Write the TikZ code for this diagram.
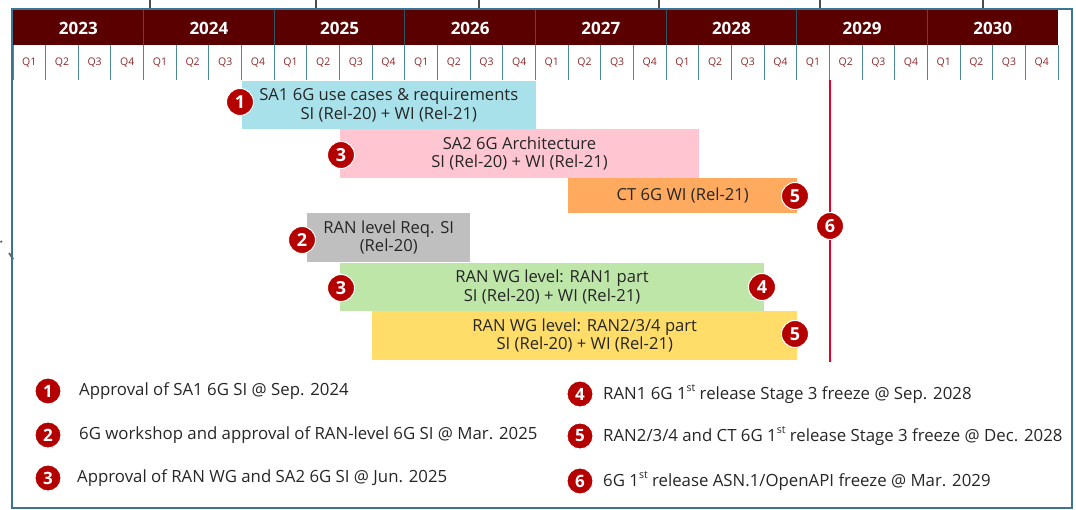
\documentclass[tikz,border=0pt]{standalone}
\usepackage{fontspec}
\setmainfont{Open Sans}
\definecolor{hdr}{HTML}{5A0000}
\definecolor{qtxt}{HTML}{8B2A2A}
\definecolor{qline}{HTML}{4A8A94}
\definecolor{ysep}{HTML}{2E5963}
\definecolor{frame}{HTML}{3A7594}
\definecolor{cSA}{HTML}{A9E1EA}
\definecolor{cPink}{HTML}{FFC6D2}
\definecolor{cOrange}{HTML}{FFAA5E}
\definecolor{cGray}{HTML}{BFBFBF}
\definecolor{cGreen}{HTML}{BEE6A9}
\definecolor{cYellow}{HTML}{FFDD68}
\definecolor{badgered}{HTML}{B50000}
\definecolor{redline}{HTML}{E4002B}
\definecolor{txt}{HTML}{262626}
\newcommand\qx[1]{(13+#1*32.656)}
\newcommand\stx{\raisebox{0.45em}{\fontsize{10.5}{10}\selectfont st}}
\tikzset{
  yearlbl/.style={text=white, font=\fontsize{17}{18}\selectfont\bfseries, inner sep=0},
  qlbl/.style={text=qtxt, font=\fontsize{10.5}{12}\selectfont, inner sep=0},
  barbox/.style={anchor=north west, inner sep=0, align=center, text=txt,
     font=\fontsize{16.6}{18.5}\selectfont},
  badge/.style={circle, fill=badgered, draw=white, line width=1pt, inner sep=0,
     minimum size=27pt, text=white, font=\fontsize{18}{18}\selectfont\bfseries},
  badgeS/.style={badge, minimum size=26pt, font=\fontsize{17}{17}\selectfont\bfseries},
  legtxt/.style={anchor=west, inner sep=0, text=txt, font=\fontsize{16.8}{18}\selectfont},
  redl/.style={draw=redline, line width=2.5pt},
}
\begin{document}
\begin{tikzpicture}[x=1pt,y=-1pt]
\useasboundingbox (0,0) rectangle (1076,510);
% top artifacts
\foreach \xx in {150,316,479,659,820,983}
  \draw[line width=1.6pt, black!70] (\xx,0) -- (\xx,9);
\fill[black!60] (1.2,241.7) circle (1.3);
\draw[black!60, line width=1.8pt] (9,253) -- (13.3,259.3);
% frame
\draw[frame, line width=1.6pt] (12,9) rectangle (1072,508);
% header
\fill[hdr] (13,10) rectangle (1058,45);
\foreach \i in {1,...,7}
  \draw[ysep, line width=0.8pt] ({13+\i*130.625},10) -- ({13+\i*130.625},45);
\foreach \yr [count=\i from 0] in {2023,...,2030}
  \node[yearlbl] (yr\i) at ({13+(\i+0.5)*130.625},28) {\yr};
\foreach \j in {0,...,32}
  \draw[qline, line width=1pt] ({13+\j*32.656},45) -- ({13+\j*32.656},80);
\foreach \j in {0,...,31}{
  \pgfmathtruncatemacro\qq{mod(\j,4)+1}
  \node[qlbl] (q\j) at ({13+(\j+0.5)*32.656},62.5) {Q\qq};
}
% bars
\node[barbox, fill=cSA, minimum width=294pt, minimum height=48pt] (sa1) at ({\qx{7}},81)
  {SA1 6G use cases \& requirements\\SI (Rel-20) + WI (Rel-21)};
\node[barbox, fill=cPink, minimum width=359.4pt, minimum height=49pt] (sa2) at ({\qx{10}},129)
  {SA2 6G Architecture\\SI (Rel-20) + WI (Rel-21)};
\node[barbox, fill=cOrange, minimum width=228.8pt, minimum height=35pt] (ct) at ({\qx{17}},178)
  {CT 6G WI (Rel-21)};
\node[barbox, fill=cGray, minimum width=163.3pt, minimum height=49pt] (ranreq) at ({\qx{9}},213)
  {RAN level Req. SI\\(Rel-20)};
\node[barbox, fill=cGreen, minimum width=424.5pt, minimum height=48pt] (ran1) at ({\qx{10}},263)
  {RAN WG level: RAN1 part\\SI (Rel-20) + WI (Rel-21)};
\node[barbox, fill=cYellow, minimum width=424.6pt, minimum height=49pt] (ran234) at ({\qx{11}},311)
  {RAN WG level: RAN2/3/4 part\\SI (Rel-20) + WI (Rel-21)};
% freeze line
\coordinate (rtop) at (830,80);
\coordinate (rbot) at (830,362);
\draw[redl] (rtop) -- (rbot);
% badges on bars
\node[badge] (m1) at (240,102) {1};
\node[badge] (m3a) at (341,155) {3};
\node[badge] (m5a) at (795,196) {5};
\node[badge] (m2) at (302,240) {2};
\node[badge] (m3b) at (341,288) {3};
\node[badge] (m4) at (762,287) {4};
\node[badge] (m5b) at (795,334) {5};
\node[badge] (m6) at (830,226) {6};
% legend
\node[badgeS] (l1) at (48,391) {1};
\node[legtxt] (t1) at (79,391) {Approval of SA1 6G SI @ Sep. 2024};
\node[badgeS] (l2) at (48,435) {2};
\node[legtxt] (t2) at (79,435) {6G workshop and approval of RAN-level 6G SI @ Mar. 2025};
\node[badgeS] (l3) at (48,478) {3};
\node[legtxt] (t3) at (77,478) {Approval of RAN WG and SA2 6G SI @ Jun. 2025};
\node[badgeS] (l4) at (580,394) {4};
\node[legtxt] (t4) at (603,394) {RAN1 6G 1\stx{} release Stage 3 freeze @ Sep. 2028};
\node[badgeS] (l5) at (580,436) {5};
\node[legtxt] (t5) at (603,436) {RAN2/3/4 and CT 6G 1\stx{} release Stage 3 freeze @ Dec. 2028};
\node[badgeS] (l6) at (580,481) {6};
\node[legtxt] (t6) at (603,481) {6G 1\stx{} release ASN.1/OpenAPI freeze @ Mar. 2029};
\end{tikzpicture}
\end{document}
